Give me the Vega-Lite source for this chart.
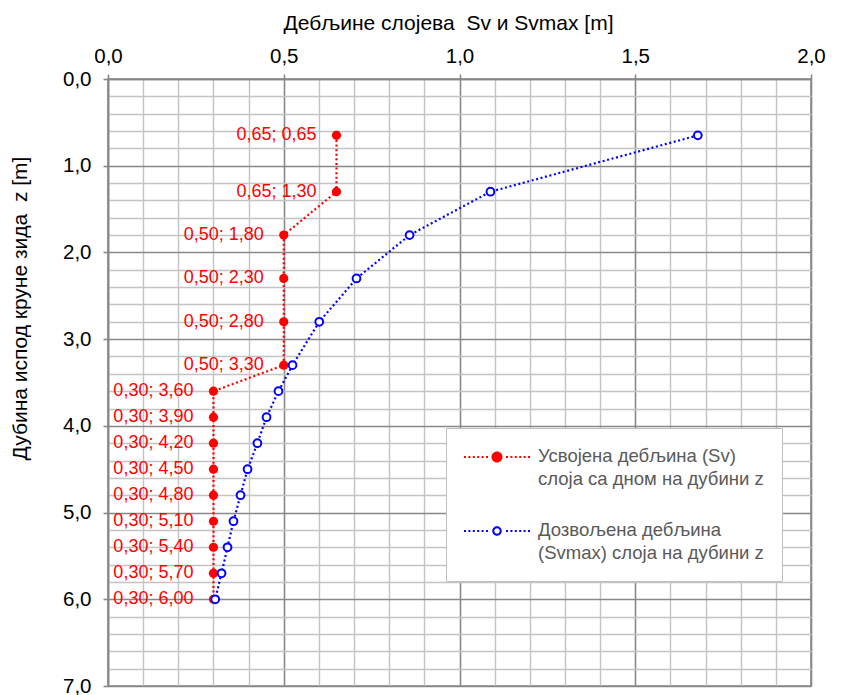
{
  "$schema": "https://vega.github.io/schema/vega-lite/v6.json",
  "width": 703,
  "height": 607,
  "autosize": "none",
  "padding": {"left": 108, "top": 79, "right": 30, "bottom": 9},
  "background": "white",
  "config": {
    "font": "Liberation Sans",
    "view": {"stroke": "#888888", "strokeWidth": 1.6}
  },
  "data": {
    "values": [
      {"series": "Sv", "x": 0.65, "z": 0.65},
      {"series": "Sv", "x": 0.65, "z": 1.30},
      {"series": "Sv", "x": 0.50, "z": 1.80},
      {"series": "Sv", "x": 0.50, "z": 2.30},
      {"series": "Sv", "x": 0.50, "z": 2.80},
      {"series": "Sv", "x": 0.50, "z": 3.30},
      {"series": "Sv", "x": 0.30, "z": 3.60},
      {"series": "Sv", "x": 0.30, "z": 3.90},
      {"series": "Sv", "x": 0.30, "z": 4.20},
      {"series": "Sv", "x": 0.30, "z": 4.50},
      {"series": "Sv", "x": 0.30, "z": 4.80},
      {"series": "Sv", "x": 0.30, "z": 5.10},
      {"series": "Sv", "x": 0.30, "z": 5.40},
      {"series": "Sv", "x": 0.30, "z": 5.70},
      {"series": "Sv", "x": 0.30, "z": 6.00},
      {"series": "Svmax", "x": 1.678, "z": 0.65},
      {"series": "Svmax", "x": 1.088, "z": 1.30},
      {"series": "Svmax", "x": 0.858, "z": 1.80},
      {"series": "Svmax", "x": 0.707, "z": 2.30},
      {"series": "Svmax", "x": 0.601, "z": 2.80},
      {"series": "Svmax", "x": 0.525, "z": 3.30},
      {"series": "Svmax", "x": 0.485, "z": 3.60},
      {"series": "Svmax", "x": 0.451, "z": 3.90},
      {"series": "Svmax", "x": 0.425, "z": 4.20},
      {"series": "Svmax", "x": 0.397, "z": 4.50},
      {"series": "Svmax", "x": 0.377, "z": 4.80},
      {"series": "Svmax", "x": 0.357, "z": 5.10},
      {"series": "Svmax", "x": 0.340, "z": 5.40},
      {"series": "Svmax", "x": 0.323, "z": 5.70},
      {"series": "Svmax", "x": 0.305, "z": 6.00}
    ]
  },
  "resolve": {"axis": {"x": "independent", "y": "independent"}},
  "layer": [
    {
      "mark": {"type": "line", "strokeWidth": 2.2, "strokeDash": [2, 2.6]},
      "encoding": {
        "x": {
          "field": "x", "type": "quantitative",
          "scale": {"domain": [0, 2], "nice": false, "zero": false},
          "axis": {
            "orient": "top",
            "values": [0, 0.5, 1, 1.5, 2],
            "labelExpr": "replace(format(datum.value, '.1f'), '.', ',')",
            "labelFlush": false,
            "grid": true, "gridColor": "#888888", "gridWidth": 1.6,
            "domain": true, "domainColor": "#888888", "domainWidth": 1.6,
            "ticks": true, "tickColor": "#888888", "tickWidth": 1.6, "tickSize": 5,
            "labelFontSize": 20.5, "labelColor": "#000000", "labelPadding": 8,
            "title": "Дебљине слојева \u00a0Sv и Svmax [m]",
            "titleFontSize": 21, "titleFontWeight": "normal", "titleColor": "#000000",
            "titlePadding": 13, "titleX": 340
          }
        },
        "y": {
          "field": "z", "type": "quantitative",
          "scale": {"domain": [0, 7], "reverse": true, "nice": false, "zero": false},
          "axis": {
            "orient": "left",
            "values": [0, 1, 2, 3, 4, 5, 6, 7],
            "labelExpr": "replace(format(datum.value, '.1f'), '.', ',')",
            "labelFlush": false,
            "grid": true, "gridColor": "#888888", "gridWidth": 1.6,
            "domain": true, "domainColor": "#888888", "domainWidth": 1.6,
            "ticks": true, "tickColor": "#888888", "tickWidth": 1.6, "tickSize": 5,
            "labelFontSize": 20.5, "labelColor": "#000000", "labelPadding": 12,
            "title": "Дубина испод круне зида \u00a0z [m]",
            "titleFontSize": 21, "titleFontWeight": "normal", "titleColor": "#000000",
            "titlePadding": 32, "titleY": 229
          }
        },
        "order": {"field": "z", "type": "quantitative"},
        "color": {
          "field": "series", "type": "nominal",
          "scale": {"domain": ["Sv", "Svmax"], "range": ["#ff0000", "#0000ff"]},
          "legend": {
            "orient": "none", "legendX": 338, "legendY": 349,
            "title": null,
            "padding": 18,
            "fillColor": "#ffffff", "strokeColor": "#bfbfbf",
            "labelFont": "Liberation Sans", "labelFontSize": 18.5, "labelColor": "#595959",
            "labelLimit": 400, "labelOffset": 52, "labelBaseline": "top",
            "labelExpr": "datum.value === 'Sv' ? ['Усвојена дебљина (Sv)', 'слоја са дном на дубини z'] : ['Дозвољена дебљина', '(Svmax) слоја на дубини z']",
            "symbolType": "M-1,0H5",
            "symbolSize": 484,
            "symbolStrokeWidth": 0,
            "rowPadding": 31,
            "encode": {
              "labels": {"update": {"dy": {"value": -10}, "lineHeight": {"value": 23}}},
              "symbols": {
                "update": {
                  "shape": {"signal": "(datum.value === 'Sv' ? 'M1.5,0A0.5,0.5 0 1,1 2.5,0A0.5,0.5 0 1,1 1.5,0Z' : 'M1.57,0A0.43,0.43 0 1,1 2.43,0A0.43,0.43 0 1,1 1.57,0ZM1.75,0A0.25,0.25 0 1,0 2.25,0A0.25,0.25 0 1,0 1.75,0Z') + 'M-1,-0.09h0.18v0.18h-0.18ZM-0.6,-0.09h0.18v0.18h-0.18ZM-0.2,-0.09h0.18v0.18h-0.18ZM0.2,-0.09h0.18v0.18h-0.18ZM0.6,-0.09h0.18v0.18h-0.18ZM1,-0.09h0.18v0.18h-0.18ZM2.82,-0.09h0.18v0.18h-0.18ZM3.22,-0.09h0.18v0.18h-0.18ZM3.62,-0.09h0.18v0.18h-0.18ZM4.02,-0.09h0.18v0.18h-0.18ZM4.42,-0.09h0.18v0.18h-0.18ZM4.82,-0.09h0.18v0.18h-0.18Z'"},
                  "fill": {"signal": "datum.value === 'Sv' ? '#ff0000' : '#0000ff'"},
                  "fillOpacity": {"value": 1},
                  "strokeWidth": {"value": 0}
                }
              }
            }
          }
        }
      }
    },
    {
      "mark": {"type": "point", "opacity": 0},
      "encoding": {
        "x": {
          "field": "x", "type": "quantitative",
          "axis": {
            "orient": "bottom",
            "values": [0.1, 0.2, 0.3, 0.4, 0.6, 0.7, 0.8, 0.9, 1.1, 1.2, 1.3, 1.4, 1.6, 1.7, 1.8, 1.9],
            "grid": true, "gridColor": "#c3c3c3", "gridWidth": 1.4,
            "domain": false, "ticks": false, "labels": false, "title": null
          }
        },
        "y": {
          "field": "z", "type": "quantitative",
          "axis": {
            "orient": "right",
            "values": [0.2, 0.4, 0.6, 0.8, 1.2, 1.4, 1.6, 1.8, 2.2, 2.4, 2.6, 2.8, 3.2, 3.4, 3.6, 3.8, 4.2, 4.4, 4.6, 4.8, 5.2, 5.4, 5.6, 5.8, 6.2, 6.4, 6.6, 6.8],
            "grid": true, "gridColor": "#c3c3c3", "gridWidth": 1.4,
            "domain": false, "ticks": false, "labels": false, "title": null
          }
        }
      }
    },
    {
      "transform": [{"filter": "datum.series === 'Sv'"}],
      "mark": {"type": "point", "shape": "circle", "filled": true, "size": 85, "color": "#ff0000", "opacity": 1},
      "encoding": {
        "x": {"field": "x", "type": "quantitative", "axis": null},
        "y": {"field": "z", "type": "quantitative", "axis": null}
      }
    },
    {
      "transform": [{"filter": "datum.series === 'Svmax'"}],
      "mark": {"type": "point", "shape": "circle", "filled": false, "fill": "#ffffff", "fillOpacity": 1, "size": 60, "stroke": "#0000ff", "strokeWidth": 2, "opacity": 1},
      "encoding": {
        "x": {"field": "x", "type": "quantitative", "axis": null},
        "y": {"field": "z", "type": "quantitative", "axis": null}
      }
    },
    {
      "transform": [
        {"filter": "datum.series === 'Sv'"},
        {"calculate": "replace(format(datum.x, '.2f'), '.', ',') + '; ' + replace(format(datum.z, '.2f'), '.', ',')", "as": "label"}
      ],
      "mark": {"type": "text", "align": "right", "baseline": "middle", "dx": -20, "fontSize": 18, "color": "#ff0000", "font": "Liberation Sans"},
      "encoding": {
        "x": {"field": "x", "type": "quantitative", "axis": null},
        "y": {"field": "z", "type": "quantitative", "axis": null},
        "text": {"field": "label"}
      }
    }
  ]
}
